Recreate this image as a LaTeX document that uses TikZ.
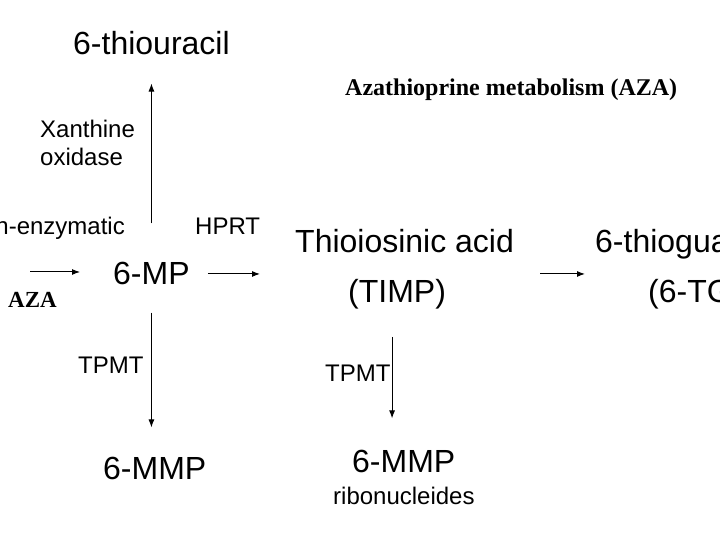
\documentclass[tikz,border=0pt]{standalone}
\usepackage{fontspec}
\setmainfont{Liberation Sans}
\newfontfamily\serifbf{Liberation Serif}
\usetikzlibrary{arrows.meta, positioning, calc}
\tikzset{
  compound/.style={inner sep=0pt, anchor=base west, font=\fontsize{32}{38}\selectfont},
  enzyme/.style={inner sep=0pt, anchor=base west, font=\fontsize{24}{28}\selectfont},
  serifhead/.style={inner sep=0pt, anchor=base west, font=\serifbf\bfseries\fontsize{24}{28}\selectfont},
  arr/.style={-{Latex[length=8pt, width=6pt]}, line width=1pt},
}

\begin{document}
\begin{tikzpicture}[x=1pt, y=1pt]
  \clip (0,0) rectangle (720,540);
  \fill[white] (0,0) rectangle (720,540);

  % Compounds
  \node[compound] (thiouracil) at (73,485) {6-thiouracil};
  \node[compound] (mp) at (113,255) {6-MP};
  \node[compound] (tia) at (295,287) {Thioiosinic acid};
  \node[compound] (timp) at (348,237) {(TIMP)};
  \node[compound] (tg) at (595,287) {6-thioguanine};
  \node[compound] (tgn) at (648,237) {(6-TG)};
  \node[compound] (mmpl) at (103,60) {6-MMP};
  \node[compound] (mmpr) at (352,67) {6-MMP};
  \node[enzyme] (ribo) at (333,35) {ribonucleides};

  % Enzymes
  \node[enzyme, align=left, anchor=north west] (xo) at (40,420) {Xanthine\\oxidase};
  \node[enzyme, anchor=base east] (nonenz) at (125,305) {Non-enzymatic};
  \node[enzyme] (hprt) at (195,305) {HPRT};
  \node[enzyme] (tpmtl) at (78,166) {TPMT};
  \node[enzyme] (tpmtr) at (325,158) {TPMT};

  % Headings
  \node[serifhead] (title) at (345,444) {Azathioprine metabolism (AZA)};
  \node[serifhead, font=\serifbf\bfseries\fontsize{23}{27}\selectfont] (aza) at (8,232) {AZA};

  % Reactions
  \coordinate (src) at (30,268);
  \draw[arr, shorten >=33pt] (src) -- (src -| mp.west);
  \draw[arr, shorten <=39pt, shorten >=28pt] (mp.north) -- (mp.north |- thiouracil.south);
  \draw[arr, shorten <=27pt, shorten >=30pt] (mp.south) -- (mp.south |- mmpl.north);
  \draw[arr, shorten <=18pt, shorten >=35pt] (mp.east) -- (mp.east -| tia.west);
  \draw[arr, shorten <=26pt, shorten >=10pt] (tia.east |- mp.east) -- (tg.west |- mp.east);
  \draw[arr, shorten <=27pt, shorten >=32pt] ([xshift=-5pt]timp.south) -- ([xshift=-5pt]timp.south |- mmpr.north);
\end{tikzpicture}
\end{document}
